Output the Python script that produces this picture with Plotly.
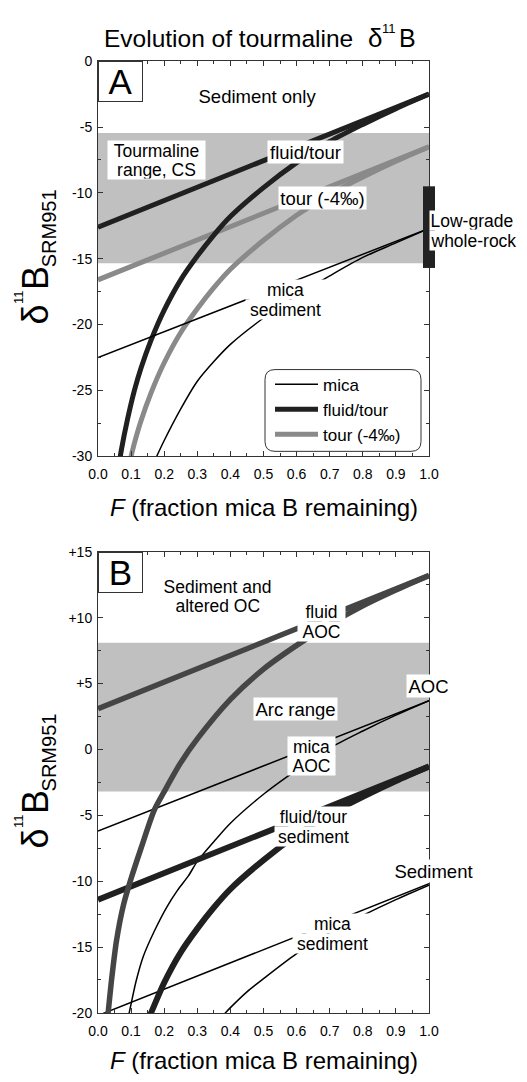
import plotly.graph_objects as go

# ---------------- data ----------------
F_line = [0.0, 1.0]

# Panel A  (sediment only)
A_mica_line = [-22.5, -12.7]
A_fluid_line = [-12.6, -2.5]
A_tour_line = [-16.6, -6.5]

A_fluid_curve_F = [0.065, 0.07, 0.09, 0.11, 0.13, 0.16, 0.2, 0.25, 0.3, 0.35, 0.4, 0.5, 0.6, 0.7, 0.8, 0.9, 1.0]
A_fluid_curve = [-30.4, -29.6, -27.1, -25.0, -23.3, -21.2, -18.9, -16.6, -14.8, -13.2, -11.8, -9.6, -7.7, -6.1, -4.8, -3.6, -2.5]

A_tour_curve_F = [0.1, 0.11, 0.13, 0.16, 0.2, 0.25, 0.3, 0.35, 0.4, 0.5, 0.6, 0.7, 0.8, 0.9, 1.0]
A_tour_curve = [-30.0, -29.0, -27.3, -25.2, -22.9, -20.6, -18.8, -17.2, -15.8, -13.6, -11.7, -10.1, -8.8, -7.6, -6.5]

A_mica_curve_F = [0.17, 0.2, 0.25, 0.3, 0.35, 0.4, 0.5, 0.6, 0.7, 0.8, 0.9, 1.0]
A_mica_curve = [-30.4, -28.8, -26.4, -24.3, -22.8, -21.5, -19.5, -17.8, -16.3, -14.9, -13.8, -12.7]

A_band = [-15.35, -5.45]          # tourmaline range, CS
A_whole_rock = [-15.7, -9.5]      # low-grade whole-rock bar at F = 1

# Panel B  (sediment and altered oceanic crust)
B_fluidAOC_line = [3.1, 13.2]
B_micaAOC_line = [-6.2, 3.7]
B_fluidsed_line = [-11.4, -1.3]
B_micased_line = [-20.2, -10.2]

B_fluidAOC_curve_F = [0.028, 0.031, 0.04, 0.056, 0.077, 0.1, 0.13, 0.17, 0.2, 0.25, 0.3, 0.4, 0.5, 0.6, 0.7, 0.8, 0.9, 1.0]
B_fluidAOC_curve = [-20.5, -19.9, -17.7, -14.5, -11.8, -9.8, -7.5, -4.6, -3.2, -1.0, 0.8, 3.8, 6.1, 7.9, 9.5, 10.9, 12.1, 13.2]

B_micaAOC_curve_F = [0.09, 0.095, 0.115, 0.137, 0.17, 0.207, 0.24, 0.273, 0.3, 0.35, 0.4, 0.5, 0.575, 0.7, 0.8, 0.9, 1.0]
B_micaAOC_curve = [-20.4, -19.9, -17.6, -15.7, -13.8, -12.0, -10.7, -9.6, -8.5, -7.0, -5.6, -3.4, -2.0, 0.1, 1.4, 2.6, 3.7]

B_fluidsed_curve_F = [0.155, 0.162, 0.2, 0.25, 0.3, 0.35, 0.4, 0.5, 0.6, 0.7, 0.8, 0.9, 1.0]
B_fluidsed_curve = [-20.3, -19.9, -17.7, -15.4, -13.6, -12.0, -10.6, -8.4, -6.5, -4.9, -3.6, -2.4, -1.3]

B_micased_curve_F = [0.37, 0.4, 0.45, 0.5, 0.6, 0.7, 0.8, 0.9, 1.0]
B_micased_curve = [-20.4, -19.6, -18.4, -17.4, -15.5, -13.9, -12.6, -11.4, -10.3]

B_band = [-3.2, 8.1]              # arc range

# axes / ticks
x_tickvals = [0.0, 0.1, 0.2, 0.3, 0.4, 0.5, 0.6, 0.7, 0.8, 0.9, 1.0]
x_ticktext = ["0.0", "0.1", "0.2", "0.3", "0.4", "0.5", "0.6", "0.7", "0.8", "0.9", "1.0"]
A_yrange = [-30, 0]
A_tickvals = [-30, -25, -20, -15, -10, -5, 0]
A_ticktext = ["-30", "-25", "-20", "-15", "-10", "-5", "0"]
B_yrange = [-20, 15]
B_tickvals = [-20, -15, -10, -5, 0, 5, 10, 15]
B_ticktext = ["-20", "-15", "-10", "-5", "0", "+5", "+10", "+15"]

# ---------------- styling ----------------
FONT = "Liberation Sans, Arial, Helvetica, sans-serif"
W, H = 527, 1082
ML, MR = 98, 98
PW = W - ML - MR
DARK = "#202020"
GRAY = "#8a8a8a"
BDARK = "#454545"
AXC = "#333333"

def px_x(p):
    return (p - ML) / PW

def px_y(p):
    return 1 - p / H

fig = go.Figure()

def add_line(xa, ya, xs, ys, color, width, curve=False):
    fig.add_trace(go.Scatter(
        x=xs, y=ys, mode="lines", xaxis=xa, yaxis=ya,
        line=dict(color=color, width=width, shape="spline" if curve else "linear",
                  smoothing=0.8 if curve else None),
        showlegend=False, hoverinfo="skip"))

# Panel A
add_line("x", "y", F_line, A_tour_line, GRAY, 5)
add_line("x", "y", A_tour_curve_F, A_tour_curve, GRAY, 5, True)
add_line("x", "y", F_line, A_fluid_line, DARK, 5)
add_line("x", "y", A_fluid_curve_F, A_fluid_curve, DARK, 5, True)
add_line("x", "y", F_line, A_mica_line, "black", 1.5)
add_line("x", "y", A_mica_curve_F, A_mica_curve, "black", 1.5, True)
fig.data[4].update(showlegend=True, name="mica", legendrank=1)
fig.data[2].update(showlegend=True, name="fluid/tour", legendrank=2)
fig.data[0].update(showlegend=True, name="tour (-4‰)", legendrank=3)

# Panel B
add_line("x2", "y2", F_line, B_micaAOC_line, "black", 1.5)
add_line("x2", "y2", B_micaAOC_curve_F, B_micaAOC_curve, "black", 1.5, True)
add_line("x2", "y2", F_line, B_micased_line, "black", 1.5)
add_line("x2", "y2", B_micased_curve_F, B_micased_curve, "black", 1.5, True)
add_line("x2", "y2", F_line, B_fluidsed_line, DARK, 6)
add_line("x2", "y2", B_fluidsed_curve_F, B_fluidsed_curve, DARK, 6, True)
add_line("x2", "y2", F_line, B_fluidAOC_line, BDARK, 5.5)
add_line("x2", "y2", B_fluidAOC_curve_F, B_fluidAOC_curve, BDARK, 5.5, True)

shapes = []
shapes.append(dict(type="rect", xref="x", yref="y", x0=0, x1=1, y0=A_band[0], y1=A_band[1],
                   fillcolor="#c0c0c0", line=dict(width=0), layer="below"))
shapes.append(dict(type="rect", xref="x2", yref="y2", x0=0, x1=1, y0=B_band[0], y1=B_band[1],
                   fillcolor="#c0c0c0", line=dict(width=0), layer="below"))
# whole-rock bar at F = 1 (axis-domain fractions so it is not clipped at the frame)
yspan = A_yrange[1] - A_yrange[0]
shapes.append(dict(type="rect", xref="x domain", yref="y domain",
                   x0=1 - 6 / PW, x1=1 + 6 / PW,
                   y0=(A_whole_rock[0] - A_yrange[0]) / yspan,
                   y1=(A_whole_rock[1] - A_yrange[0]) / yspan,
                   fillcolor="#222222", line=dict(width=0), layer="above"))
# rounded legend frame
x0, x1, y0, y1, r = 265, 421, 367, 450, 10
path = ("M {a},{b} L {c},{b} Q {d},{b} {d},{e} L {d},{f} Q {d},{g} {c},{g} "
        "L {a},{g} Q {h},{g} {h},{f} L {h},{e} Q {h},{b} {a},{b} Z").format(
    a=px_x(x0 + r), b=px_y(y0), c=px_x(x1 - r), d=px_x(x1), e=px_y(y0 + r),
    f=px_y(y1 - r), g=px_y(y1), h=px_x(x0))
shapes.append(dict(type="path", xref="paper", yref="paper", path=path,
                   line=dict(color=AXC, width=1), fillcolor="white", layer="above"))

ann = []
def lab(xr, yr, x, y, text, width=None, xanchor="center", align="center", size=18.5,
        bg="white", height=None, xshift=0):
    d = dict(xref=xr, yref=yr, x=x, y=y, text=text, showarrow=False,
             font=dict(family=FONT, size=size, color="black"),
             bgcolor=bg, borderpad=0.5, xanchor=xanchor, yanchor="middle", align=align,
             xshift=xshift)
    if width:
        d["width"] = width
    if height:
        d["height"] = height
    ann.append(d)

M2 = 17.5   # font of two-line labels
HH = 18     # box height of each line of a two-line label

# Panel A labels
lab("x", "y", 0.483, -2.62, "Sediment only")
lab("x", "y", 0.178, -8.25, "range, CS", width=96, height=HH, size=M2)
lab("x", "y", 0.178, -6.75, "Tourmaline", width=96, height=HH, size=M2)
lab("x", "y", 0.627, -6.86, "fluid/tour", width=74)
lab("x", "y", 0.678, -10.42, "tour (-4‰)", width=86)
lab("x", "y", 1.0, -13.62, "whole-rock", width=90, xanchor="left", align="left", height=HH, size=M2)
lab("x", "y", 1.0, -12.12, "Low-grade", width=90, xanchor="left", align="left", height=HH, size=M2)
lab("x", "y", 0.567, -18.82, "sediment", width=78, height=HH, size=M2)
lab("x", "y", 0.567, -17.32, "mica", width=78, height=HH, size=M2)

# Panel B labels
lab("x2", "y2", 0.362, 10.9, "altered OC", bg="rgba(0,0,0,0)", height=HH, size=M2)
lab("x2", "y2", 0.362, 12.4, "Sediment and", bg="rgba(0,0,0,0)", height=HH, size=M2)
lab("x2", "y2", 0.676, 8.97, "AOC", width=46, height=HH, size=M2)
lab("x2", "y2", 0.676, 10.47, "fluid", width=46, height=HH, size=M2)
lab("x2", "y2", 0.598, 3.07, "Arc range", width=82)
lab("x2", "y2", 0.998, 4.81, "AOC", width=42)
lab("x2", "y2", 0.646, -1.25, "AOC", width=46, height=HH, size=M2)
lab("x2", "y2", 0.646, 0.25, "mica", width=46, height=HH, size=M2)
lab("x2", "y2", 0.65, -6.6, "sediment", width=76, height=HH, size=M2)
lab("x2", "y2", 0.65, -5.1, "fluid/tour", width=76, height=HH, size=M2)
lab("x2", "y2", 1.0, -9.2, "Sediment", width=80, xshift=4)
lab("x2", "y2", 0.708, -14.74, "sediment", width=78, height=HH, size=M2)
lab("x2", "y2", 0.708, -13.24, "mica", width=78, height=HH, size=M2)

# panel letters
for xr, yr, t in (("x domain", "y domain", "A"), ("x2 domain", "y2 domain", "B")):
    ann.append(dict(xref=xr, yref=yr, x=0, y=1, xanchor="left", yanchor="top", text=t,
                    showarrow=False, font=dict(family=FONT, size=35, color="black"),
                    bgcolor="white", bordercolor=AXC, borderwidth=1, borderpad=0,
                    width=43, height=39))

def ptext(xc, yc, text, size, xanchor="center", angle=0):
    ann.append(dict(xref="paper", yref="paper", x=px_x(xc), y=px_y(yc), xanchor=xanchor,
                    yanchor="middle", showarrow=False, textangle=angle, borderpad=0,
                    font=dict(family=FONT, size=size, color="black"), text=text))

# title: Evolution of tourmaline δ11B (pieces sized like the reference)
ptext(103, 30.8, "Evolution of tourmaline", 24.5, xanchor="left")
ptext(375, 30.3, "δ", 26)
ptext(388.5, 20.5, "11", 13)
ptext(407.5, 30.6, "B", 25)

# axis titles
for yc in (507, 1068):
    ptext(ML + PW / 2, yc, "<i>F</i> (fraction mica B remaining)", 24)
for off in (0, 532):
    ptext(35.5, 311.5 + off, "δ", 36, angle=-90)
    ptext(18.5, 293.8 + off, "11", 13, angle=-90)
    ptext(35.5, 274.5 + off, "B", 36, angle=-90)
    ptext(48.6, 224 + off, "SRM951", 20, angle=-90)

def xaxis(anchor):
    return dict(range=[0, 1], anchor=anchor, domain=[0, 1],
                tickmode="array", tickvals=x_tickvals, ticktext=x_ticktext,
                ticks="inside", ticklen=5, tickwidth=1, tickcolor=AXC,
                showline=True, linecolor=AXC, linewidth=1, mirror="ticks",
                showgrid=False, zeroline=False, ticklabelstandoff=5,
                tickfont=dict(family=FONT, size=14, color="black"),
                minor=dict(ticks="inside", ticklen=3, tickmode="linear", tick0=0, dtick=0.05,
                           tickcolor=AXC, tickwidth=1, showgrid=False))

def yaxis(anchor, rng, tv, tt, dom):
    return dict(range=rng, anchor=anchor, domain=dom,
                tickmode="array", tickvals=tv, ticktext=tt,
                ticks="inside", ticklen=5, tickwidth=1, tickcolor=AXC,
                showline=True, linecolor=AXC, linewidth=1, mirror="ticks",
                showgrid=False, zeroline=False, ticklabelstandoff=2,
                tickfont=dict(family=FONT, size=14, color="black"),
                minor=dict(ticks="inside", ticklen=3, tickmode="linear", tick0=0, dtick=2.5,
                           tickcolor=AXC, tickwidth=1, showgrid=False))

fig.update_layout(
    width=W, height=H, autosize=False,
    margin=dict(l=ML, r=MR, t=0, b=0, pad=0),
    paper_bgcolor="white", plot_bgcolor="white",
    font=dict(family=FONT, color="black"),
    xaxis=xaxis("y"),
    yaxis=yaxis("x", A_yrange, A_tickvals, A_ticktext, [px_y(455), px_y(54)]),
    xaxis2=xaxis("y2"),
    yaxis2=yaxis("x2", B_yrange, B_tickvals, B_ticktext, [px_y(1020), px_y(552)]),
    shapes=shapes, annotations=ann,
    showlegend=True,
    legend=dict(x=px_x(270), y=px_y(364), xanchor="left", yanchor="top",
                bgcolor="rgba(0,0,0,0)", borderwidth=0,
                font=dict(family=FONT, size=17, color="black"),
                traceorder="normal", itemwidth=43),
)

fig.write_html("out.html", config={"displayModeBar": False},
               post_script="document.body.style.margin='0';document.body.style.overflow='hidden';")
